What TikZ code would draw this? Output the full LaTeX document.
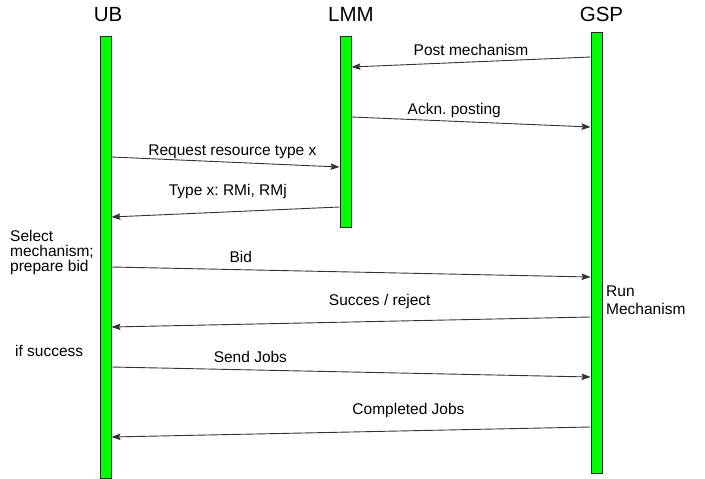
\documentclass[tikz,border=0pt]{standalone}
\usepackage{fontspec}
\setmainfont{Liberation Sans}
\usetikzlibrary{arrows.meta, positioning}
\definecolor{barfill}{HTML}{00FF00}

\begin{document}
\frenchspacing
\begin{tikzpicture}[x=1pt, y=-1pt,
        head/.style={font=\fontsize{20.5}{22}\selectfont, anchor=base, inner sep=0pt},
        bar/.style={draw=black!85, fill=barfill, line width=0.9pt, minimum width=11pt, inner sep=0pt, anchor=north},
        msg/.style={-{Stealth[length=9pt, width=6.5pt, inset=1.5pt]}, draw=black!80, line width=0.9pt},
        lbl/.style={font=\fontsize{15.5}{15.5}\selectfont, anchor=base, inner sep=0pt, yshift=7pt},
        hilbl/.style={lbl, yshift=9pt},
        note/.style={font=\fontsize{15.5}{15}\selectfont, align=left, inner sep=0pt, anchor=north west}
    ]
        \useasboundingbox (0,0) rectangle (705,479);

        % LIFELINES
        \node[bar, minimum height=442pt] (ub) at (105.5, 36) {};
        \node[bar, minimum height=191pt] (lmm) at (345.5, 36) {};
        \node[bar, minimum height=441pt] (gsp) at (596.5, 32) {};

        \node[head] (ubh) at (108, 21.7) {UB};
        \node[head] (lmmh) at (351, 21.7) {LMM};
        \node[head] (gsph) at (601.5, 21.7) {GSP};

        % MESSAGES
        \draw[msg] (gsp.west |- 0,57) -- node[lbl, pos=0.5] {Post mechanism} (lmm.east |- 0,67);
        \draw[msg] (lmm.east |- 0,117) -- node[lbl, pos=0.43] {Ackn. posting} (gsp.west |- 0,127);
        \draw[msg] (ub.east |- 0,157) -- node[lbl, pos=0.53] {Request resource type x} (lmm.west |- 0,167);
        \draw[msg] (lmm.west |- 0,207) -- node[hilbl, pos=0.49] {Type x: RMi, RMj} (ub.east |- 0,217);
        \draw[msg] (ub.east |- 0,267) -- node[lbl, pos=0.27] {Bid} (gsp.west |- 0,277);
        \draw[msg] (gsp.west |- 0,317) -- node[hilbl, pos=0.44] {Succes / reject} (ub.east |- 0,327);
        \draw[msg] (ub.east |- 0,367) -- node[lbl, pos=0.29] {Send Jobs} (gsp.west |- 0,377);
        \draw[msg] (gsp.west |- 0,427) -- node[hilbl, pos=0.38] {Completed Jobs} (ub.east |- 0,437);

        % NOTES
        \node[note] (select) at (10, 230) {Select\\mechanism;\\prepare bid};
        \node[note] (ifsucc) at (15, 345) {if success};
        \node[note, font=\fontsize{15.5}{18}\selectfont] (runmech) at (606, 286) {Run\\Mechanism};
\end{tikzpicture}
\end{document}
